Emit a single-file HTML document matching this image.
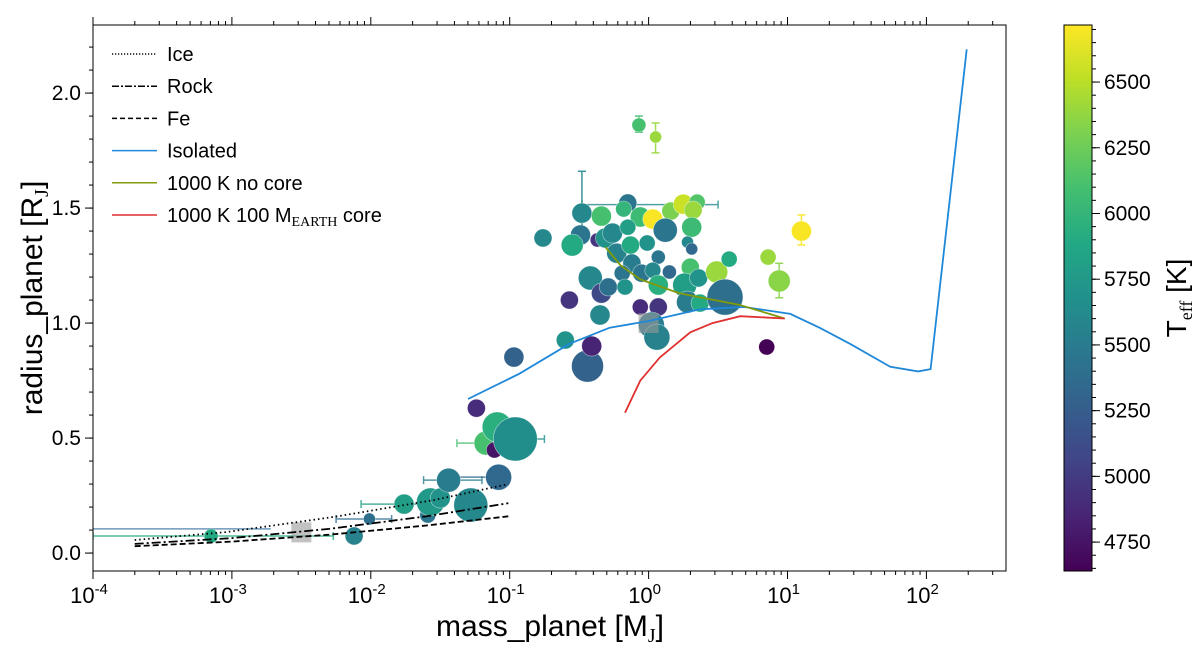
<!DOCTYPE html>
<html><head><meta charset="utf-8"><style>
html,body{margin:0;padding:0;background:#fff;}
svg text{font-family:"Liberation Sans","DejaVu Sans",sans-serif;fill:#000;}
</style></head><body>
<svg id="chart" width="1200" height="646" viewBox="0 0 1200 646" xmlns="http://www.w3.org/2000/svg">
<defs>
<linearGradient id="vir" x1="0" y1="1" x2="0" y2="0">
<stop offset="0" stop-color="#440154"/><stop offset="0.1" stop-color="#482475"/><stop offset="0.2" stop-color="#414487"/><stop offset="0.3" stop-color="#355f8d"/><stop offset="0.4" stop-color="#2a788e"/><stop offset="0.5" stop-color="#21918c"/><stop offset="0.6" stop-color="#22a884"/><stop offset="0.7" stop-color="#44bf70"/><stop offset="0.8" stop-color="#7ad151"/><stop offset="0.9" stop-color="#bddf26"/><stop offset="1" stop-color="#fde725"/>
</linearGradient>
<clipPath id="plotclip"><rect x="93" y="25" width="913" height="546"/></clipPath>
</defs>
<g id="plot"></g>
</svg>
<script>
// ---- data ----
const massLog10 = [-3.15,-2.12,-2.01,-1.76,-1.59,-1.57,-1.50,-1.44,-1.28,-1.08,-1.24,-1.17,-1.11,-1.09,-0.96,-0.97,-0.44,-0.41,-0.60,
-0.07,0.05,-0.48,-0.34,-0.15,-0.18,-0.06,0.03,0.16,0.25,0.35,0.32,0.12,0.31,-0.49,-0.55,-0.76,-0.37,-0.31,-0.26,-0.23,-0.15,-0.13,-0.01,0.07,0.28,0.31,-0.12,-0.42,-0.34,-0.29,-0.19,-0.17,-0.05,0.03,0.15,0.07,0.30,0.26,0.36,0.49,0.58,0.86,0.94,1.10,-0.57,-0.35,-0.06,0.07,0.28,0.37,0.55,0.02,0.06,0.85];
const radius = [0.074,0.074,0.148,0.213,0.165,0.222,0.239,0.317,0.209,0.330,0.630,0.478,0.448,0.548,0.496,0.852,0.813,0.900,0.926,
1.861,1.809,1.478,1.465,1.522,1.496,1.461,1.452,1.487,1.517,1.526,1.491,1.404,1.417,1.383,1.339,1.370,1.361,1.370,1.391,1.304,1.417,1.339,1.348,1.287,1.352,1.322,1.261,1.196,1.130,1.157,1.217,1.157,1.217,1.230,1.222,1.165,1.243,1.165,1.196,1.222,1.278,1.287,1.183,1.400,1.100,1.035,1.070,1.070,1.091,1.087,1.113,0.991,0.939,0.896];
const teff = [5900,5550,5400,5800,5450,5750,5700,5500,5600,5350,4900,6100,4750,5950,5650,5300,5300,4850,5700,
6100,6400,5600,6100,5450,6000,6050,6700,6300,6550,6150,6400,5450,6050,5450,5900,5600,4950,5700,5600,5550,5800,5900,5700,5450,5600,5350,5500,5600,5100,5400,5450,5700,5450,5600,5350,5950,6100,5800,5700,6400,5900,6400,6350,6700,4950,5600,4900,4950,5500,5900,5400,5500,5550,4650];
const markerSize = [7,9,6,10,8,14,10,12,17,13,9,12,8,15,22,10,16,10,9,
7,6,10,10,9,8,10,10,9,10,8,9,12,10,10,11,9,7,10,10,10,8,9,8,7,6,6,9,12,10,9,8,8,9,8,7,10,9,12,9,11,8,8,11,10,9,10,8,9,11,9,18,13,13,8];
const xErrIdx = [0,2,3,7,9,14,11,21];
const xErrLo = [-4.0,-2.25,-2.07,-1.62,-1.50,-1.10,-1.38,-0.48];
const xErrHi = [-2.27,-1.85,-1.62,-1.20,-1.00,-0.75,-0.82,0.50];
const xErrRad = [0.074,0.148,0.213,0.317,0.330,0.496,0.478,1.515];
const yErrIdx = [19,20,21,61,62,63];
const yErrLo = [1.83,1.74,1.40,1.26,1.11,1.34];
const yErrHi = [1.90,1.87,1.66,1.31,1.26,1.47];
const grayMass = [-2.50,0.0];
const grayRad = [0.09,1.0];
const isoM = [-1.30,-0.93,-0.57,-0.28,0.01,0.37,0.69,1.02,1.23,1.45,1.74,1.94,2.03,2.29];
const isoR = [0.67,0.78,0.91,0.98,1.01,1.06,1.07,1.04,0.98,0.91,0.81,0.79,0.80,2.19];
const nocoreM = [-0.31,-0.20,-0.06,0.22,0.65,0.98];
const nocoreR = [1.33,1.25,1.19,1.13,1.08,1.02];
const coreM = [-0.17,-0.06,0.08,0.30,0.46,0.66,0.98];
const coreR = [0.61,0.75,0.85,0.96,1.00,1.03,1.02];
const iceM = [-3.70,-3.04,-2.27,-1.55,-1.01];
const iceR = [0.057,0.091,0.157,0.23,0.30];
const rockM = [-3.70,-3.0,-2.3,-1.6,-1.01];
const rockR = [0.04,0.065,0.105,0.16,0.217];
const feM = [-3.70,-3.0,-2.3,-1.6,-1.01];
const feR = [0.03,0.05,0.08,0.12,0.16];
const yTicks = [0.0,0.5,1.0,1.5,2.0];
const yTickLabels = ["0.0","0.5","1.0","1.5","2.0"];
const xDecades = [-4,-3,-2,-1,0,1,2];
const cbTicks = [4750,5000,5250,5500,5750,6000,6250,6500];

// ---- scales ----
const X0=93,X1=1006,Y0=25,Y1=571;
const xMin=-4, xMax=2.573, yMin=-0.078, yMax=2.296;
const sx = v => X0+(v-xMin)/(xMax-xMin)*(X1-X0);
const sy = v => Y1-(v-yMin)/(yMax-yMin)*(Y1-Y0);
const tMin=4640,tMax=6717;
const sc = t => Y1-(t-tMin)/(tMax-tMin)*(Y1-Y0);
const vir=[[68,1,84],[72,36,117],[65,68,135],[53,95,141],[42,120,142],[33,145,140],[34,168,132],[68,191,112],[122,209,81],[189,223,38],[253,231,37]];
function color(t){let f=Math.max(0,Math.min(1,(t-tMin)/(tMax-tMin)))*(vir.length-1);let i=Math.min(vir.length-2,Math.floor(f)),u=f-i;
 const c=vir[i].map((a,k)=>Math.round(a+(vir[i+1][k]-a)*u));return `rgb(${c[0]},${c[1]},${c[2]})`;}

const NS="http://www.w3.org/2000/svg";
const svg=document.getElementById('chart');
function mk(tag,attrs,parent){const e=document.createElementNS(NS,tag);for(const k in attrs)e.setAttribute(k,attrs[k]);(parent||svg).appendChild(e);return e;}
const plot=document.getElementById('plot');
plot.setAttribute('clip-path','url(#plotclip)');

function curve(ms,rs,style,name){
 const d=ms.map((m,i)=>(i?'L':'M')+sx(m).toFixed(1)+','+sy(rs[i]).toFixed(1)).join(' ');
 const p=mk('path',Object.assign({d:d,fill:'none'},style),plot);
 
 
}
xErrIdx.forEach((idx,j)=>{
 const y=sy(xErrRad[j]),c=color(teff[idx]);
 const g=mk('g',{stroke:c,'stroke-width':1.5,opacity:0.8},plot);
 
 
 mk('line',{x1:sx(xErrLo[j]),x2:sx(xErrHi[j]),y1:y,y2:y},g);
 mk('line',{x1:sx(xErrLo[j]),x2:sx(xErrLo[j]),y1:y-4,y2:y+4},g);
 mk('line',{x1:sx(xErrHi[j]),x2:sx(xErrHi[j]),y1:y-4,y2:y+4},g);
});
// extra blue error line at bottom-left
{const g=mk('line',{x1:X0,x2:sx(-2.72),y1:sy(0.105),y2:sy(0.105),stroke:'#4a7fa8','stroke-width':1.5,opacity:0.8},plot);

}
yErrIdx.forEach((idx,j)=>{
 const x=sx(massLog10[idx]),c=color(teff[idx]);
 const g=mk('g',{stroke:c,'stroke-width':1.5,opacity:0.9},plot);
 
 
 mk('line',{x1:x,x2:x,y1:sy(yErrLo[j]),y2:sy(yErrHi[j])},g);
 mk('line',{x1:x-4,x2:x+4,y1:sy(yErrLo[j]),y2:sy(yErrLo[j])},g);
 mk('line',{x1:x-4,x2:x+4,y1:sy(yErrHi[j]),y2:sy(yErrHi[j])},g);
});
massLog10.forEach((m,i)=>{
 const c=mk('circle',{cx:sx(m).toFixed(1),cy:sy(radius[i]).toFixed(1),r:markerSize[i],fill:color(teff[i]),stroke:'#fff','stroke-width':0.6,'stroke-opacity':0.6},plot);
 
 
});
grayMass.forEach((m,i)=>{
 const r=mk('rect',{x:sx(m)-10,y:sy(grayRad[i])-10,width:20,height:20,fill:'#999',opacity:0.6},plot);
 
 
});
curve(isoM,isoR,{stroke:'#1f88d8','stroke-width':1.8},'isolated-curve');
curve(nocoreM,nocoreR,{stroke:'#7f9a0a','stroke-width':1.8},'no-core-curve');
curve(coreM,coreR,{stroke:'#e03030','stroke-width':1.8},'core-curve');
curve(iceM,iceR,{stroke:'#000','stroke-width':1.8,'stroke-dasharray':'1.5 3'},'ice-curve');
curve(rockM,rockR,{stroke:'#000','stroke-width':1.8,'stroke-dasharray':'9 3 2 3'},'rock-curve');
curve(feM,feR,{stroke:'#000','stroke-width':1.8,'stroke-dasharray':'6 3'},'fe-curve');

const fr=mk('rect',{x:X0,y:Y0,width:X1-X0,height:Y1-Y0,fill:'none',stroke:'#000','stroke-width':1});


const xt=mk('g',{stroke:'#000','stroke-width':1});


xDecades.forEach(d=>{
 for(let k=1;k<10;k++){
  const v=d+Math.log10(k); if(v>xMax)break;
  const x=sx(v),L=k===1?8:4;
  mk('line',{x1:x,x2:x,y1:Y1,y2:Y1+L},xt);
  mk('line',{x1:x,x2:x,y1:Y0,y2:Y0-L},xt);
 }
 const t=mk('text',{x:sx(d)-4,y:Y1+32,'font-size':22,'text-anchor':'middle'});
 t.innerHTML='10<tspan dy="-9" font-size="15">'+d+'</tspan>';
 
 
});
const yt=mk('g',{stroke:'#000','stroke-width':1});


for(let v=0;v<=2.25;v+=0.1){const y=sy(v);mk('line',{x1:X0,x2:X0-4,y1:y,y2:y},yt);}
yTicks.forEach((v,i)=>{
 const y=sy(v);mk('line',{x1:X0,x2:X0-8,y1:y,y2:y},yt);
 const t=mk('text',{x:X0-12,y:y+7,'font-size':21,'text-anchor':'end'});
 t.textContent=yTickLabels[i];
 
 
});
let t=mk('text',{x:550,y:636,'font-size':30,'text-anchor':'middle'});
t.innerHTML='mass_planet [M<tspan dy="6" font-size="20" font-family="Liberation Serif">J</tspan><tspan dy="-6">]</tspan>';


t=mk('text',{x:0,y:0,'font-size':30,'text-anchor':'middle',transform:'translate(42,298) rotate(-90)'});
t.innerHTML='radius_planet [R<tspan dy="6" font-size="20" font-family="Liberation Serif">J</tspan><tspan dy="-6">]</tspan>';



const legNames=['Ice','Rock','Fe','Isolated','1000 K no core','1000 K 100 M'];
const legStyles=[{stroke:'#000','stroke-dasharray':'1.2 1.8'},{stroke:'#000','stroke-dasharray':'7 2 2 2'},{stroke:'#000','stroke-dasharray':'5 3'},{stroke:'#1f88d8'},{stroke:'#7f9a0a'},{stroke:'#e03030'}];
const lg=mk('g',{});


legNames.forEach((n,i)=>{
 const y=54+i*32.2;
 const e=mk('g',{},lg);
 
 
 mk('line',Object.assign({x1:112,x2:157,y1:y,y2:y,'stroke-width':1.5},legStyles[i]),e);
 const tx=mk('text',{x:167,y:y+7,'font-size':20},e);
 if(i===5) tx.innerHTML='1000 K 100 M<tspan dy="4" font-size="14" font-family="Liberation Serif">EARTH</tspan><tspan dy="-4"> core</tspan>';
 else tx.textContent=n;
});

const cb=mk('rect',{x:1064,y:Y0,width:28,height:Y1-Y0,fill:'url(#vir)',stroke:'#000','stroke-width':1});


const cbt=mk('g',{stroke:'#000','stroke-width':1});


for(let v=4650;v<=6700;v+=50){const y=sc(v);mk('line',{x1:1092,x2:1096,y1:y,y2:y},cbt);}
cbTicks.forEach(v=>{
 const y=sc(v);mk('line',{x1:1092,x2:1100,y1:y,y2:y},cbt);
 const tx=mk('text',{x:1104,y:y+7,'font-size':21});
 tx.textContent=v;
 
 
});
t=mk('text',{x:0,y:0,'font-size':28,'text-anchor':'middle',transform:'translate(1186,298) rotate(-90)'});
t.innerHTML='T<tspan dy="6" font-size="18" font-family="Liberation Serif">eff</tspan><tspan dy="-6"> [K]</tspan>';


</script>
</body></html>
